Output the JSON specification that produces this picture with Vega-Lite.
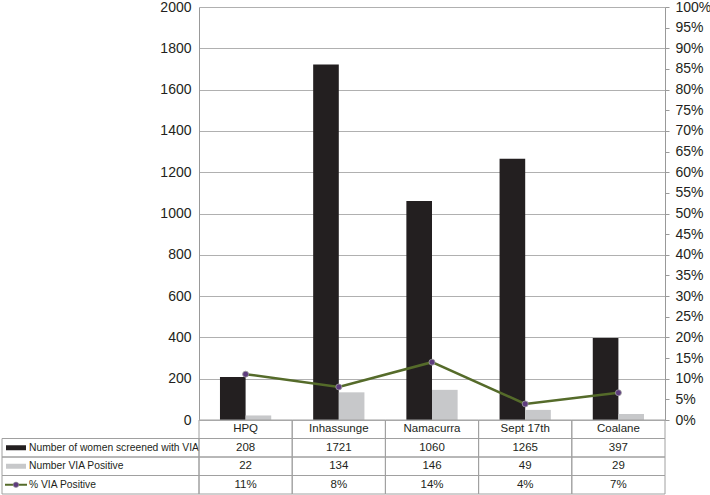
{
  "$schema": "https://vega.github.io/schema/vega-lite/v6.json",
  "padding": {"left": 0, "top": 0, "right": 0, "bottom": 0},
  "spacing": 0,
  "bounds": "flush",
  "columns": 2,
  "config": {"view": {"stroke": null}, "font": "Liberation Sans", "concat": {"spacing": 0}},
  "resolve": {"scale": {"color": "independent"}},
  "datasets": {
    "barData": [
      {"site": "HPQ", "series": "Number of women screened with VIA", "value": 208},
      {"site": "HPQ", "series": "Number VIA Positive", "value": 22},
      {"site": "Inhassunge", "series": "Number of women screened with VIA", "value": 1721},
      {"site": "Inhassunge", "series": "Number VIA Positive", "value": 134},
      {"site": "Namacurra", "series": "Number of women screened with VIA", "value": 1060},
      {"site": "Namacurra", "series": "Number VIA Positive", "value": 146},
      {"site": "Sept 17th", "series": "Number of women screened with VIA", "value": 1265},
      {"site": "Sept 17th", "series": "Number VIA Positive", "value": 49},
      {"site": "Coalane", "series": "Number of women screened with VIA", "value": 397},
      {"site": "Coalane", "series": "Number VIA Positive", "value": 29}
    ],
    "pctData": [
      {"site": "HPQ", "pct": 0.111},
      {"site": "Inhassunge", "pct": 0.08},
      {"site": "Namacurra", "pct": 0.14},
      {"site": "Sept 17th", "pct": 0.039},
      {"site": "Coalane", "pct": 0.066}
    ],
    "tableData": [
      {"site": "HPQ", "row": "header", "text": "HPQ"},
      {"site": "Inhassunge", "row": "header", "text": "Inhassunge"},
      {"site": "Namacurra", "row": "header", "text": "Namacurra"},
      {"site": "Sept 17th", "row": "header", "text": "Sept 17th"},
      {"site": "Coalane", "row": "header", "text": "Coalane"},
      {"site": "HPQ", "row": "screened", "text": "208"},
      {"site": "Inhassunge", "row": "screened", "text": "1721"},
      {"site": "Namacurra", "row": "screened", "text": "1060"},
      {"site": "Sept 17th", "row": "screened", "text": "1265"},
      {"site": "Coalane", "row": "screened", "text": "397"},
      {"site": "HPQ", "row": "positive", "text": "22"},
      {"site": "Inhassunge", "row": "positive", "text": "134"},
      {"site": "Namacurra", "row": "positive", "text": "146"},
      {"site": "Sept 17th", "row": "positive", "text": "49"},
      {"site": "Coalane", "row": "positive", "text": "29"},
      {"site": "HPQ", "row": "pct", "text": "11%"},
      {"site": "Inhassunge", "row": "pct", "text": "8%"},
      {"site": "Namacurra", "row": "pct", "text": "14%"},
      {"site": "Sept 17th", "row": "pct", "text": "4%"},
      {"site": "Coalane", "row": "pct", "text": "7%"}
    ],
    "legendRows": [
      {"row": "screened", "label": "Number of women screened with VIA"},
      {"row": "positive", "label": "Number VIA Positive"},
      {"row": "pct", "label": "% VIA Positive"}
    ]
  },
  "concat": [
    {
      "width": 197,
      "height": 413,
      "data": {"values": [{"t": ""}]},
      "mark": {"type": "text"},
      "encoding": {"text": {"field": "t"}}
    },
    {
      "width": 466,
      "height": 413,
      "layer": [
        {
          "data": {"name": "barData"},
          "mark": {"type": "bar"},
          "encoding": {
            "x": {"field": "site", "type": "nominal", "sort": ["HPQ", "Inhassunge", "Namacurra", "Sept 17th", "Coalane"], "scale": {"paddingInner": 0.45, "paddingOuter": 0.225}, "axis": null},
            "xOffset": {"field": "series", "type": "nominal", "sort": ["Number of women screened with VIA", "Number VIA Positive"], "scale": {"paddingInner": 0, "paddingOuter": 0}},
            "y": {"field": "value", "type": "quantitative", "scale": {"domain": [0, 2000], "nice": false},
              "axis": {"values": [0, 200, 400, 600, 800, 1000, 1200, 1400, 1600, 1800, 2000], "format": "d", "grid": true, "gridColor": "#b0b0b0", "domainColor": "#999999", "ticks": false, "labelFontSize": 14, "labelColor": "#231f20", "labelPadding": 8, "title": null}},
            "color": {"field": "series", "type": "nominal", "sort": ["Number of women screened with VIA", "Number VIA Positive"], "scale": {"domain": ["Number of women screened with VIA", "Number VIA Positive"], "range": ["#231f20", "#c7c8ca"]}, "legend": null}
          }
        },
        {
          "data": {"name": "pctData"},
          "encoding": {
            "x": {"field": "site", "type": "nominal", "sort": ["HPQ", "Inhassunge", "Namacurra", "Sept 17th", "Coalane"], "axis": null},
            "y": {"field": "pct", "type": "quantitative", "scale": {"domain": [0, 1], "nice": false},
              "axis": {"orient": "right", "values": [0, 0.05, 0.1, 0.15, 0.2, 0.25, 0.3, 0.35, 0.4, 0.45, 0.5, 0.55, 0.6, 0.65, 0.7, 0.75, 0.8, 0.85, 0.9, 0.95, 1], "format": ".0%", "grid": false, "tickSize": 4, "tickColor": "#999999", "domainColor": "#999999", "labelFontSize": 14, "labelColor": "#231f20", "labelPadding": 6, "title": null}}
          },
          "layer": [
            {"mark": {"type": "line", "color": "#556b2a", "strokeWidth": 2.5}},
            {"mark": {"type": "point", "filled": true, "fill": "#5e3c7e", "stroke": "#a0a0a0", "strokeWidth": 0.8, "size": 36, "opacity": 1}}
          ]
        }
      ],
      "resolve": {"scale": {"y": "independent"}}
    },
    {
      "width": 197,
      "height": 74,
      "data": {"name": "legendRows"},
      "encoding": {
        "y": {"field": "row", "type": "nominal", "scale": {"domain": ["header", "screened", "positive", "pct"], "paddingInner": 0, "paddingOuter": 0}, "axis": null}
      },
      "layer": [
        {"mark": {"type": "rect", "fill": "transparent", "stroke": "#a0a0a0", "strokeWidth": 1}},
        {
          "transform": [{"filter": "datum.row == 'screened'"}],
          "mark": {"type": "point", "shape": "M-1,-0.25H1V0.25H-1Z", "size": 400, "filled": true, "fill": "#231f20", "opacity": 1},
          "encoding": {"x": {"datum": 0.071, "type": "quantitative", "scale": {"domain": [0, 1]}, "axis": null}}
        },
        {
          "transform": [{"filter": "datum.row == 'positive'"}],
          "mark": {"type": "point", "shape": "M-1,-0.25H1V0.25H-1Z", "size": 400, "filled": true, "fill": "#c7c8ca", "opacity": 1},
          "encoding": {"x": {"datum": 0.071, "type": "quantitative"}}
        },
        {
          "transform": [{"filter": "datum.row == 'pct'"}],
          "mark": {"type": "point", "shape": "M-1,0H1", "size": 484, "filled": false, "stroke": "#556b2a", "strokeWidth": 2, "opacity": 1},
          "encoding": {"x": {"datum": 0.071, "type": "quantitative"}}
        },
        {
          "transform": [{"filter": "datum.row == 'pct'"}],
          "mark": {"type": "point", "filled": true, "fill": "#5e3c7e", "stroke": "#a0a0a0", "strokeWidth": 0.6, "size": 30, "opacity": 1},
          "encoding": {"x": {"datum": 0.071, "type": "quantitative"}}
        },
        {
          "mark": {"type": "text", "align": "left", "baseline": "middle", "font": "Liberation Sans", "fontSize": 10.3, "color": "#231f20"},
          "encoding": {
            "x": {"datum": 0.137, "type": "quantitative"},
            "text": {"field": "label"}
          }
        }
      ]
    },
    {
      "width": 466,
      "height": 74,
      "data": {"name": "tableData"},
      "encoding": {
        "x": {"field": "site", "type": "nominal", "sort": ["HPQ", "Inhassunge", "Namacurra", "Sept 17th", "Coalane"], "scale": {"paddingInner": 0, "paddingOuter": 0}, "axis": null},
        "y": {"field": "row", "type": "nominal", "scale": {"domain": ["header", "screened", "positive", "pct"], "paddingInner": 0, "paddingOuter": 0}, "axis": null}
      },
      "layer": [
        {"mark": {"type": "rect", "fill": "transparent", "stroke": "#a0a0a0", "strokeWidth": 1}},
        {
          "mark": {"type": "text", "align": "center", "baseline": "middle", "font": "Liberation Sans", "fontSize": 11.5, "color": "#231f20"},
          "encoding": {"text": {"field": "text"}}
        }
      ]
    }
  ]
}
